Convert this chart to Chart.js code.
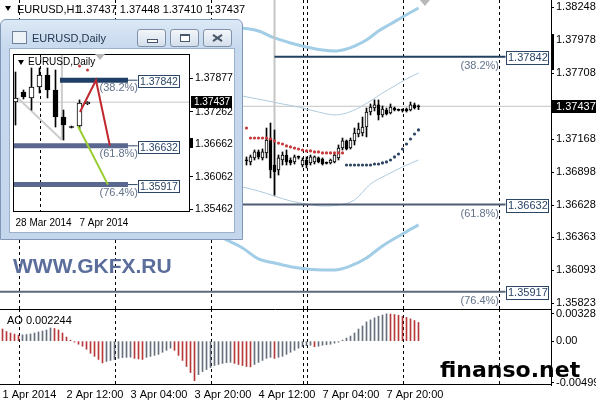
<!DOCTYPE html>
<html>
<head>
<meta charset="utf-8">
<title>EURUSD H1</title>
<script src="https://cdn.jsdelivr.net/npm/chart.js@4.4.1/dist/chart.umd.min.js"></script>
<style>
  html, body { margin: 0; padding: 0; }
  body { width: 596px; height: 400px; position: relative; overflow: hidden; background: #fff;
         font-family: "Liberation Sans Narrow", "Liberation Sans", Arial, sans-serif; }
  .abs { position: absolute; }
  #hdrTri { left: 5px; top: 6px; width: 0; height: 0; border-left: 3px solid transparent; border-right: 3px solid transparent; border-top: 5px solid #000; }
  #hdrName { left: 17px; top: 3px; font-size: 11px; line-height: 12px; }
  #hdrVals { left: 77px; top: 3px; font-size: 11px; line-height: 12px; white-space: pre; }
  #aoLbl { left: 7px; top: 314px; font-size: 11px; line-height: 12px; white-space: pre; }
  #win { left: 0; top: 19px; width: 243px; height: 221px; box-sizing: border-box;
         border: 1px solid #8098b5; border-radius: 6px 6px 0 0;
         background: linear-gradient(to bottom, #dce8f5 0px, #c7d9ee 28px, #c3d6ec 100%); }
  #wicon { left: 11px; top: 11px; width: 13px; height: 11px; border: 1px solid #6d8299; background: #eef3f8; }
  #wtitle { left: 31px; top: 11px; font: 11px "Liberation Sans", Arial, sans-serif; line-height: 15px; color: #23364f; }
  .wbtn { top: 9px; width: 29px; height: 18px; box-sizing: border-box; border: 1px solid #7f92aa; border-radius: 3px;
          background: linear-gradient(#f3f6fa, #d4dfeb); }
  .imin { left: 9px; top: 9px; width: 9px; height: 2px; border: 1px solid #4a586c; background: #fff; }
  .imax { left: 9px; top: 4px; width: 8px; height: 5px; border: 1px solid #4a586c; border-top-width: 2px; background: #fff; }
  .ix { left: 8px; top: 7px; width: 11px; height: 2px; background: #4a586c; }
  #client { left: 9px; top: 29px; width: 224px; height: 183px; background: #fff; outline: 1px solid #9db1c8; }
  #dTri { left: 8px; top: 11px; width: 0; height: 0; border-left: 3px solid transparent; border-right: 3px solid transparent; border-top: 5px solid #000; }
  #dName { left: 18px; top: 7px; font: 10px "Liberation Sans", Arial, sans-serif; line-height: 12px; }
  #gkfx { left: 13px; top: 255px; font: bold 21px "Liberation Sans", Arial, sans-serif; line-height: 21px; color: #5b6d9b; }
  #fin { left: 440px; top: 359px; font: bold 22px "DejaVu Sans", sans-serif; line-height: 22px; color: #000; }
</style>
</head>
<body>
<div class="abs" style="left:0;top:0"><canvas id="main" width="596" height="309"></canvas></div>
<div class="abs" style="left:0;top:308px"><canvas id="ao" width="596" height="92"></canvas></div>

<div id="hdrTri" class="abs"></div>
<div id="hdrName" class="abs">EURUSD,H1</div>
<div id="hdrVals" class="abs">1.37437 1.37448 1.37410 1.37437</div>
<div id="aoLbl" class="abs">AO 0.002244</div>

<div id="gkfx" class="abs">WWW.GKFX.RU</div>

<div id="win" class="abs">
  <div id="wicon" class="abs"></div>
  <div id="wtitle" class="abs">EURUSD,Daily</div>
  <div class="wbtn abs" style="left:136px"><div class="imin abs"></div></div>
  <div class="wbtn abs" style="left:169px"><div class="imax abs"></div></div>
  <div class="wbtn abs" style="left:202px">
    <div class="ix abs" style="transform:rotate(35deg)"></div>
    <div class="ix abs" style="transform:rotate(-35deg)"></div>
  </div>
  <div id="client" class="abs">
    <canvas id="daily" width="224" height="183"></canvas>
    <div id="dTri" class="abs"></div>
    <div id="dName" class="abs">EURUSD,Daily</div>
  </div>
</div>

<div id="fin" class="abs">finanso.net</div>

<script>
const NARROW = '"Liberation Sans Narrow", "Liberation Sans", Arial, sans-serif';
const REG = '"Liberation Sans", Arial, sans-serif';

// ---------- H1 chart ----------
// bar index 0 = 1 Apr 20:00, one bar per hour, weekend skipped
const h1First = 61; // first candle visible right of the daily window
const h1Open  = [1.36997,1.36981,1.37014,1.37063,1.37014,1.37055,1.37177,1.36956,1.36915,1.36997,1.37038,1.36997,1.36981,1.37022,1.36956,1.36997,1.36973,1.36981,1.37014,1.37005,1.36973,1.36973,1.36981,1.37014,1.37095,1.37153,1.37095,1.37153,1.37210,1.37218,1.37267,1.37390,1.37423,1.37448,1.37366,1.37407,1.37382,1.37423,1.37407,1.37407,1.37415,1.37407,1.37448,1.37437];
const h1High  = [1.37022,1.37038,1.37079,1.37079,1.37087,1.37259,1.37300,1.37243,1.37038,1.37063,1.37079,1.37014,1.37038,1.37030,1.37014,1.37022,1.37038,1.37030,1.37022,1.37014,1.36981,1.37005,1.37046,1.37120,1.37177,1.37161,1.37177,1.37259,1.37300,1.37349,1.37423,1.37456,1.37489,1.37489,1.37440,1.37423,1.37456,1.37431,1.37415,1.37415,1.37423,1.37472,1.37464,1.37448];
const h1Low   = [1.36956,1.36956,1.36997,1.37005,1.36997,1.37014,1.36850,1.36710,1.36874,1.36956,1.36956,1.36956,1.36964,1.37005,1.36940,1.36932,1.36956,1.36964,1.36973,1.36956,1.36964,1.36964,1.36973,1.36997,1.37079,1.37079,1.37087,1.37120,1.37186,1.37194,1.37186,1.37366,1.37399,1.37325,1.37349,1.37366,1.37374,1.37399,1.37399,1.37390,1.37390,1.37399,1.37415,1.37410];
const h1Close = [1.36989,1.37022,1.37063,1.37022,1.37063,1.37161,1.36915,1.36899,1.37014,1.37038,1.36981,1.36973,1.37022,1.37022,1.36997,1.36956,1.37022,1.37022,1.36981,1.36964,1.36973,1.36997,1.37038,1.37095,1.37153,1.37087,1.37161,1.37218,1.37251,1.37267,1.37390,1.37431,1.37448,1.37366,1.37415,1.37374,1.37431,1.37407,1.37407,1.37410,1.37399,1.37448,1.37423,1.37437];

const bid = 1.37437;
const priceTicks = [1.38248, 1.37978, 1.37708, 1.37168, 1.36898, 1.36628, 1.36363, 1.36093, 1.35823];

// bands (outer thick / inner thin)
const upperOuterIdx = [60, 64, 68, 72, 76, 80, 83, 86, 88, 91, 94, 97, 100, 104];
const upperOuter    = [1.38079, 1.38054, 1.37997, 1.37956, 1.37923, 1.37898, 1.37890, 1.37907, 1.37931, 1.37980, 1.38054, 1.38111, 1.38169, 1.38242];
const upperInnerIdx = [60, 65, 70, 74, 79, 83, 86, 89, 92, 95, 98, 101, 104];
const upperInner    = [1.37521, 1.37489, 1.37456, 1.37431, 1.37390, 1.37366, 1.37382, 1.37423, 1.37481, 1.37546, 1.37603, 1.37661, 1.37710];
const lowerInnerIdx = [60, 64, 68, 72, 76, 80, 84, 88, 92, 96, 100, 104];
const lowerInner    = [1.36776, 1.36743, 1.36702, 1.36661, 1.36637, 1.36620, 1.36628, 1.36669, 1.36800, 1.36874, 1.36940, 1.36997];
const lowerOuterIdx = [55, 60, 64, 68, 70, 74, 80, 83, 87, 91, 95, 100, 104];
const lowerOuter    = [1.36358, 1.36276, 1.36186, 1.36153, 1.36137, 1.36112, 1.36096, 1.36096, 1.36129, 1.36194, 1.36293, 1.36391, 1.36465];

// parabolic SAR dots
const sarRedFirst = 61;
const sarRed  = [1.37259,1.37177,1.37177,1.37177,1.37177,1.37177,1.37169,1.37153,1.37136,1.37128,1.37112,1.37104,1.37095,1.37087,1.37079,1.37071,1.37071,1.37063,1.37063,1.37055,1.37055,1.37055,1.37055,1.37055,1.37055];
const sarBlueFirst = 86;
const sarBlue = [1.36956,1.36956,1.36956,1.36956,1.36956,1.36956,1.36956,1.36964,1.36964,1.36973,1.36981,1.36997,1.37022,1.37046,1.37087,1.37128,1.37169,1.37210,1.37243];

// fibonacci levels
const fibLevels = [1.37842, 1.36632, 1.35917];
const fibNames  = ['(38.2%)', '(61.8%)', '(76.4%)'];
const fibStart  = [68, -1, -1];
const fibEnd    = 125.75;
const fibColors = ['#23405f', '#4f5c72', '#5d6a7e'];

const vLineIdx = 68, vLineTop = 1.38308, vLineBottom = 1.36694;
const sepIdx = [4, 28, 52, 75, 76, 100, 124];
const scrollMark = [1.38029, 1.37734];
const shiftIdx = 105.6;

// AO histogram, one value per bar 0..104
const aoValues = [
  0.00146, 0.00116, 0.00098, 0.00085, 0.00073,
  0.00076, 0.00080, 0.00086, 0.00098, 0.00110, 0.00122, 0.00134, 0.00159,
  0.00152, 0.00134, 0.00098, 0.00049, 0.00012, -0.00012, -0.00037, -0.00061, -0.00098, -0.00146, -0.00183, -0.00220, -0.00262,
  -0.00244, -0.00232, -0.00220, -0.00207, -0.00198, -0.00195, -0.00193,
  -0.00207, -0.00214, -0.00220,
  -0.00195, -0.00183, -0.00171, -0.00159, -0.00134, -0.00110, -0.00085,
  -0.00110, -0.00171, -0.00232, -0.00305, -0.00378, -0.00476,
  -0.00403, -0.00366, -0.00342, -0.00317, -0.00293, -0.00281, -0.00268, -0.00259, -0.00254,
  -0.00268, -0.00281, -0.00293, -0.00305, -0.00310,
  -0.00281, -0.00256, -0.00232, -0.00207, -0.00195,
  -0.00207,
  -0.00195, -0.00183, -0.00159, -0.00134, -0.00110, -0.00085, -0.00067, -0.00055, -0.00049,
  -0.00067,
  -0.00061, -0.00049, -0.00043, -0.00037, -0.00024, -0.00012, 0.00012, 0.00037, 0.00061, 0.00098, 0.00146, 0.00183, 0.00232, 0.00256, 0.00280, 0.00300, 0.00315, 0.003286,
  0.00326, 0.00320, 0.00311, 0.00298, 0.00285, 0.00268, 0.00248, 0.002244
];
const aoTicks = [0.003286, 0, -0.004995];
const aoTickLabels = ['0.003286', '0.00', '-0.004995'];
const timeIdx = [0, 16, 32, 48, 64, 80, 96];
const timeLabels = ['1 Apr 2014', '2 Apr 12:00', '3 Apr 04:00', '3 Apr 20:00', '4 Apr 12:00', '7 Apr 04:00', '7 Apr 20:00'];

// ---------- Daily chart (inset window) ----------
const dailyOpen  = [1.37440, 1.37624, 1.37514, 1.37716, 1.37938, 1.37661, 1.37163, 1.36979, 1.36997, 1.37407];
const dailyHigh  = [1.37993, 1.37661, 1.38067, 1.38067, 1.38067, 1.38030, 1.37292, 1.36997, 1.37477, 1.37448];
const dailyLow   = [1.37016, 1.37495, 1.37292, 1.37606, 1.37514, 1.36979, 1.36739, 1.36961, 1.36942, 1.37390];
const dailyClose = [1.37514, 1.37532, 1.37716, 1.37938, 1.37661, 1.37163, 1.37016, 1.36979, 1.37421, 1.37437];
const dailyTicks = [1.37877, 1.37262, 1.36662, 1.36062, 1.35462];
const dailyLabelIdx = [0, 8];
const dailyLabels = ['28 Mar 2014', '7 Apr 2014'];
const dailySar = [1.38104, 1.38030];
const dailySarIdx = [8, 9];
const dailyFibStart = [5.56, -1, -1];
const dailyFibEnd = 14.06;
const dailyFibBox = 15.25;
const dailyFibColors = ['#1f3f66', '#5a6890', '#5a6890'];
const zigRedIdx = [8.06, 10.06, 11.8];
const zigRed = [1.37255, 1.37842, 1.36632];
const zigGreenIdx = [7.8, 11.55];
const zigGreen = [1.36997, 1.35917];
const dailyDiagIdx = [0.3, 5.8];
const dailyDiag = [1.37514, 1.36739];
const dailySep = 3;
const dailyMark = [1.36776, 1.36592];

// ---------- helpers ----------
function candleSets(first, o, h, l, c, bodyW, minSpan) {
  const wicks = [], bodies = [], fills = [];
  o.forEach((op, j) => {
    const x = first + j;
    wicks.push({x: x, y: [l[j], h[j]]});
    let lo = Math.min(op, c[j]), hi = Math.max(op, c[j]);
    if (hi - lo < minSpan) { const m = (hi + lo) / 2; lo = m - minSpan / 2; hi = m + minSpan / 2; }
    bodies.push({x: x, y: [lo, hi]});
    fills.push(c[j] - op > minSpan / 2 ? '#fff' : '#000');
  });
  return [
    {type: 'bar', data: wicks, backgroundColor: '#000', barThickness: 1, grouped: false, order: 6},
    {type: 'bar', data: bodies, backgroundColor: fills, borderColor: '#000', borderWidth: 1,
     borderSkipped: false, barThickness: bodyW, grouped: false, order: 5}
  ];
}
function line(xs, ys, color, width, order, extra) {
  return Object.assign({type: 'line', data: xs.map((x, i) => ({x: x, y: ys[i]})), borderColor: color,
    borderWidth: width, pointRadius: 0, fill: false, order: order}, extra || {});
}
function dots(xs, ys, color, r) {
  return {type: 'line', showLine: false, data: xs.map((x, i) => ({x: x, y: ys[i]})),
    pointRadius: r, pointBackgroundColor: color, pointBorderWidth: 0, order: 3};
}
const range = (a, n) => Array.from({length: n}, (_, i) => a + i);
const smooth = {cubicInterpolationMode: 'monotone'};

function dashedVLines(chart, idxs) {
  const {ctx, chartArea: a, scales: {x}} = chart;
  ctx.save();
  ctx.strokeStyle = '#000'; ctx.lineWidth = 1; ctx.setLineDash([3, 3]);
  idxs.forEach(i => {
    const px = Math.round(x.getPixelForValue(i)) + 0.5;
    ctx.beginPath(); ctx.moveTo(px, a.top); ctx.lineTo(px, a.bottom); ctx.stroke();
  });
  ctx.restore();
}

// main H1 x range: 4 px per bar, chart area 551 px wide
const xMin = -0.625, xMax = 137.125;

const mainDecor = {
  id: 'mainDecor',
  beforeDatasetsDraw(chart) { dashedVLines(chart, sepIdx); },
  afterDraw(chart) {
    const {ctx, chartArea: a, scales: {x, y}} = chart;
    ctx.save();
    ctx.textBaseline = 'middle';
    fibLevels.forEach((lv, n) => {
      const py = Math.round(y.getPixelForValue(lv)), bx = Math.round(x.getPixelForValue(fibEnd));
      ctx.fillStyle = '#fff'; ctx.fillRect(bx, py - 6, 42, 13);
      ctx.strokeStyle = '#2b4667'; ctx.lineWidth = 1; ctx.strokeRect(bx + 0.5, py - 5.5, 42, 13);
      ctx.font = '11px ' + REG; ctx.fillStyle = '#2b4667'; ctx.textAlign = 'left';
      ctx.fillText(lv.toFixed(5), bx + 2, py + 1);
      ctx.fillStyle = '#62728a'; ctx.textAlign = 'right';
      ctx.fillText(fibNames[n], bx - 7, py + 9);
    });
    const by = y.getPixelForValue(bid);
    ctx.fillStyle = '#000'; ctx.fillRect(a.right + 1, Math.round(by) - 6, 50, 13);
    ctx.fillStyle = '#fff'; ctx.textAlign = 'left'; ctx.font = '11px ' + NARROW;
    ctx.fillText(bid.toFixed(5), a.right + 5, Math.round(by) + 1);
    const t1 = y.getPixelForValue(scrollMark[0]), t2 = y.getPixelForValue(scrollMark[1]);
    ctx.fillStyle = '#000'; ctx.fillRect(a.right, t1, 3, t2 - t1);
    const tx = x.getPixelForValue(shiftIdx);
    ctx.fillStyle = '#b8b8b8';
    ctx.beginPath(); ctx.moveTo(tx - 5, a.top); ctx.lineTo(tx + 5, a.top); ctx.lineTo(tx, a.top + 6); ctx.fill();
    ctx.restore();
  }
};

const mainSets = [
  line([-5, 140], [bid, bid], '#c4c4c4', 1, 20),
  line(upperOuterIdx, upperOuter, '#a2cde7', 3, 15, smooth),
  line(lowerOuterIdx, lowerOuter, '#a2cde7', 3, 15, smooth),
  line(upperInnerIdx, upperInner, '#aecadc', 1, 15, smooth),
  line(lowerInnerIdx, lowerInner, '#aecadc', 1, 15, smooth),
  line([vLineIdx, vLineIdx], [vLineTop, vLineBottom], '#c6c6c6', 2, 14)
].concat(
  fibLevels.map((lv, n) => line([fibStart[n], fibEnd], [lv, lv], fibColors[n], 2, 12)),
  candleSets(h1First, h1Open, h1High, h1Low, h1Close, 3, 0.00009),
  [dots(range(sarRedFirst, sarRed.length), sarRed, '#c63a3c', 1.6),
   dots(range(sarBlueFirst, sarBlue.length), sarBlue, '#2d4463', 1.6)]
);

new Chart(document.getElementById('main'), {
  type: 'bar',
  data: {datasets: mainSets},
  options: {
    responsive: false, animation: false, events: [],
    layout: {padding: 0, autoPadding: false},
    plugins: {legend: {display: false}, tooltip: {enabled: false}},
    scales: {
      x: {type: 'linear', min: xMin, max: xMax, offset: false, display: false},
      y: {type: 'linear', position: 'right', min: 1.35776, max: 1.38308,
          afterBuildTicks: s => { s.ticks = priceTicks.map(v => ({value: v})); },
          afterFit: s => { s.width = 45; s.paddingTop = 0; s.paddingBottom = 0; },
          grid: {drawOnChartArea: false, tickLength: 3, tickColor: '#000'},
          border: {color: '#000'},
          ticks: {padding: 2, color: '#000', font: {family: NARROW, size: 11}, callback: v => v.toFixed(5)}}
    }
  },
  plugins: [mainDecor]
});

// ---------- AO pane ----------
const aoColors = aoValues.map((v, i) => (i > 0 && v > aoValues[i - 1]) ? '#65707c' : '#b5383a');
const aoDecor = {
  id: 'aoDecor',
  beforeDatasetsDraw(chart) { dashedVLines(chart, sepIdx); },
  afterDraw(chart) {
    const {ctx, chartArea: a} = chart;
    ctx.save();
    ctx.strokeStyle = '#000'; ctx.lineWidth = 1;
    ctx.beginPath();
    ctx.moveTo(0, a.top + 0.5); ctx.lineTo(a.right, a.top + 0.5);
    ctx.moveTo(0, a.bottom - 0.5); ctx.lineTo(a.right, a.bottom - 0.5);
    ctx.stroke();
    ctx.restore();
  }
};
new Chart(document.getElementById('ao'), {
  type: 'bar',
  data: {datasets: [{data: aoValues.map((v, i) => ({x: i, y: v})), backgroundColor: aoColors,
                     barThickness: 1, grouped: false}]},
  options: {
    responsive: false, animation: false, events: [],
    layout: {padding: {top: 1}, autoPadding: false},
    plugins: {legend: {display: false}, tooltip: {enabled: false}},
    scales: {
      x: {type: 'linear', min: xMin, max: xMax, offset: false,
          grid: {display: false, drawTicks: false}, border: {display: false},
          afterBuildTicks: s => { s.ticks = timeIdx.map(v => ({value: v})); },
          afterFit: s => { s.height = 15; s.paddingLeft = 0; s.paddingRight = 0; },
          ticks: {autoSkip: false, maxRotation: 0, align: 'start', padding: 3, color: '#000',
                  font: {family: NARROW, size: 11}, callback: (v, i) => timeLabels[i]}},
      y: {type: 'linear', position: 'right', min: -0.00528, max: 0.00387,
          afterBuildTicks: s => { s.ticks = aoTicks.map(v => ({value: v})); },
          afterFit: s => { s.width = 45; s.paddingTop = 0; s.paddingBottom = 0; },
          grid: {drawOnChartArea: false, tickLength: 3, tickColor: '#000'},
          border: {color: '#000'},
          ticks: {padding: 2, color: '#000', font: {family: NARROW, size: 11}, callback: (v, i) => aoTickLabels[i]}}
    }
  },
  plugins: [aoDecor]
});

// ---------- Daily inset ----------
const dailyDecor = {
  id: 'dailyDecor',
  beforeDatasetsDraw(chart) { dashedVLines(chart, [dailySep]); },
  afterDraw(chart) {
    const {ctx, chartArea: a, scales: {x, y}} = chart;
    ctx.save();
    ctx.strokeStyle = '#000'; ctx.lineWidth = 1;
    ctx.strokeRect(a.left + 0.5, a.top + 0.5, a.right - a.left - 1, a.bottom - a.top - 1);
    ctx.textBaseline = 'middle';
    fibLevels.forEach((lv, n) => {
      const py = Math.round(y.getPixelForValue(lv)), bx = Math.round(x.getPixelForValue(dailyFibBox));
      ctx.fillStyle = '#fff'; ctx.fillRect(bx, py - 5, 41, 13);
      ctx.strokeStyle = '#2b4667'; ctx.strokeRect(bx + 0.5, py - 4.5, 41, 12);
      ctx.font = '10.5px ' + REG; ctx.fillStyle = '#2b4667'; ctx.textAlign = 'left';
      ctx.fillText(lv.toFixed(5), bx + 2, py + 2);
      ctx.fillStyle = '#62728a'; ctx.textAlign = 'right'; ctx.font = '11px ' + REG;
      ctx.fillText(fibNames[n], bx, py + 8);
    });
    const by = Math.round(y.getPixelForValue(bid));
    ctx.fillStyle = '#000'; ctx.fillRect(a.right + 1, by - 6, 41, 12);
    ctx.fillStyle = '#fff'; ctx.textAlign = 'left'; ctx.font = '10px ' + REG;
    ctx.fillText(bid.toFixed(5), a.right + 4, by + 0.5);
    const t1 = y.getPixelForValue(dailyMark[0]), t2 = y.getPixelForValue(dailyMark[1]);
    ctx.fillStyle = '#000'; ctx.fillRect(a.right, t1, 3, t2 - t1);
    const tx = x.getPixelForValue(10.56);
    ctx.fillStyle = '#b8b8b8';
    ctx.beginPath(); ctx.moveTo(tx - 5, a.top); ctx.lineTo(tx + 5, a.top); ctx.lineTo(tx, a.top + 6); ctx.fill();
    ctx.restore();
  }
};

const dailySets = [
  line([-5, 30], [bid, bid], '#c4c4c4', 1, 20),
  line(dailyDiagIdx, dailyDiag, '#cccccc', 2, 14),
  line([dailyDiagIdx[1], dailyDiagIdx[1]], [1.38325, dailyDiag[1]], '#cccccc', 2, 14)
].concat(
  fibLevels.map((lv, n) => line([dailyFibStart[n], dailyFibEnd], [lv, lv], dailyFibColors[n], 5, 12, {borderCapStyle: 'butt'})),
  fibLevels.map((lv, n) => line([dailyFibEnd, dailyFibBox], [lv, lv], '#2b4667', 1, 12)),
  candleSets(0, dailyOpen, dailyHigh, dailyLow, dailyClose, 5, 0.00018),
  [line(zigRedIdx, zigRed, '#c0282e', 2, 2),
   line(zigGreenIdx, zigGreen, '#9acd32', 2, 2),
   dots(dailySarIdx, dailySar, '#c63a3c', 1.5)]
);

new Chart(document.getElementById('daily'), {
  type: 'bar',
  data: {datasets: dailySets},
  options: {
    responsive: false, animation: false, events: [],
    layout: {padding: {left: 3, top: 5, right: 0, bottom: 0}, autoPadding: false},
    plugins: {legend: {display: false}, tooltip: {enabled: false}},
    scales: {
      x: {type: 'linear', min: -0.3125, max: 21.8125, offset: false,
          grid: {display: false, drawTicks: false}, border: {display: false},
          afterBuildTicks: s => { s.ticks = dailyLabelIdx.map(v => ({value: v})); },
          afterFit: s => { s.height = 20; s.paddingLeft = 0; s.paddingRight = 0; },
          ticks: {autoSkip: false, maxRotation: 0, align: 'start', padding: 5, color: '#000',
                  font: {family: REG, size: 10}, callback: (v, i) => dailyLabels[i]}},
      y: {type: 'linear', position: 'right', min: 1.35412, max: 1.38325,
          afterBuildTicks: s => { s.ticks = dailyTicks.map(v => ({value: v})); },
          afterFit: s => { s.width = 44; s.paddingTop = 0; s.paddingBottom = 0; },
          grid: {drawOnChartArea: false, tickLength: 3, tickColor: '#000'},
          border: {display: false},
          ticks: {padding: 2, color: '#000', font: {family: REG, size: 10.5}, callback: v => v.toFixed(5)}}
    }
  },
  plugins: [dailyDecor]
});
</script>
</body>
</html>
